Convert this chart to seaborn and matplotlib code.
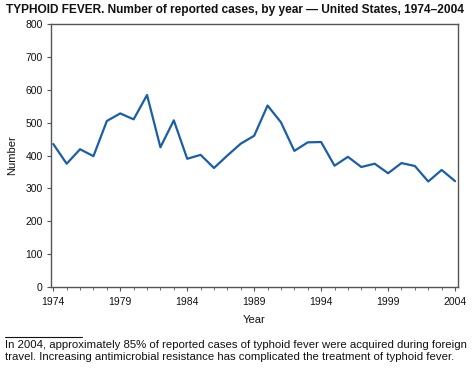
import matplotlib
matplotlib.use("Agg")
import matplotlib.pyplot as plt
from matplotlib.ticker import MultipleLocator
import seaborn as sns
import pandas as pd

years = list(range(1974, 2005))
cases = [435, 375, 419, 398, 505, 528, 510, 584, 425, 507, 390, 402, 362, 400, 436,
         460, 552, 501, 414, 440, 441, 369, 396, 365, 375, 346, 377, 368, 321, 356, 322]
xticks = [1974, 1979, 1984, 1989, 1994, 1999, 2004]
yticks = [0, 100, 200, 300, 400, 500, 600, 700, 800]

title = "TYPHOID FEVER. Number of reported cases, by year \u2014 United States, 1974\u20132004"
footnote = ("In 2004, approximately 85% of reported cases of typhoid fever were acquired during foreign\n"
            "travel. Increasing antimicrobial resistance has complicated the treatment of typhoid fever.")

sns.set_style("white")
plt.rcParams['font.family'] = ['Liberation Sans', 'DejaVu Sans']

df = pd.DataFrame({"Year": years, "Number": cases})

W, H = 472, 371
fig = plt.figure(figsize=(W / 100, H / 100), dpi=100)
ax = fig.add_axes([51 / W, 1 - 287 / H, (458 - 51) / W, (287 - 24) / H])

sns.lineplot(data=df, x="Year", y="Number", ax=ax, color="#1a5ea8", linewidth=1.6)

ax.set_xlim(1973.83, 2004.22)
ax.set_ylim(0, 800)
ax.set_xticks(xticks)
ax.set_xticklabels([str(t) for t in xticks])
ax.xaxis.set_minor_locator(MultipleLocator(1))
ax.set_yticks(yticks)

for s in ax.spines.values():
    s.set_visible(True)
    s.set_color("#555555")
    s.set_linewidth(1.0)

ax.tick_params(axis="both", which="major", direction="out", length=3, width=0.8,
               color="#555555", labelsize=7.5, labelcolor="#111111")
ax.tick_params(axis="x", which="major", pad=4)
ax.tick_params(axis="y", which="major", pad=3)
ax.tick_params(axis="x", which="minor", direction="out", length=2, width=0.6,
               color="#555555", bottom=True)
ax.tick_params(axis="x", which="major", bottom=True)
ax.tick_params(axis="y", which="major", left=True)

ax.set_xlabel("Year", fontsize=8, color="#111111", labelpad=6)
ax.set_ylabel("Number", fontsize=8, color="#111111", labelpad=6)

fig.text(6 / W, 1 - 10 / H, title, fontsize=8.6, fontweight="bold", ha="left", va="center",
         color="#111111")

fig.add_artist(plt.Line2D([5 / W, 82 / W], [1 - 337 / H, 1 - 337 / H], color="#111111", linewidth=0.8))
fig.text(5 / W, 1 - 340.5 / H, footnote, fontsize=8.2, ha="left", va="top", color="#111111",
         linespacing=1.2)

fig.savefig("out.png", dpi=100)
